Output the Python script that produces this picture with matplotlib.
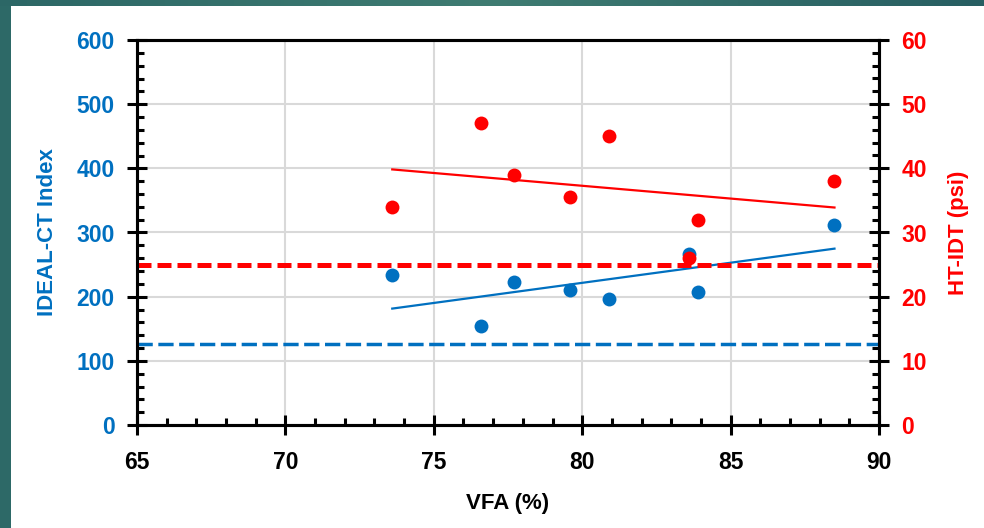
import matplotlib
matplotlib.use("Agg")
import matplotlib.pyplot as plt
import numpy as np
from matplotlib.colors import LinearSegmentedColormap
from matplotlib.patches import Rectangle
from matplotlib.ticker import MultipleLocator


# ----------------------------
# Data
# ----------------------------

vfa = [73.6, 76.6, 77.7, 79.6, 80.9, 83.6, 83.9, 88.5]
ideal_ct = [233, 154, 223, 210, 196, 266, 207, 311]
ht_idt = [34.0, 47.0, 39.0, 35.5, 45.0, 26.0, 32.0, 38.0]

ideal_ct_limit = 127   # blue dashed threshold
ht_idt_limit = 25      # red dashed threshold

BLUE = "#0070C0"
RED = "#FF0000"
TEAL = "#2d6967"

plt.rcParams["font.family"] = ["Liberation Sans", "DejaVu Sans"]
plt.rcParams["font.weight"] = "bold"

fig = plt.figure(figsize=(9.84, 5.28), dpi=100)
fig.patch.set_facecolor(TEAL)

# white slide area, teal border on left and top
fig.patches.append(Rectangle((11 / 984, 0), 1, 1 - 6 / 528, transform=fig.transFigure,
                             facecolor="white", edgecolor="none", zorder=-10))

# slightly lighter teal in the middle of the top strip
strip = fig.add_axes([0, 1 - 6 / 528, 1, 6 / 528], zorder=-5)
teal_cmap = LinearSegmentedColormap.from_list("teal", ["#2c6766", "#3f7c72", "#275e62"])
strip.imshow(np.linspace(0, 1, 256)[None, :], aspect="auto", cmap=teal_cmap)
strip.axis("off")

ax = fig.add_axes([137 / 984, 1 - 425 / 528, 742 / 984, 385 / 528])
ax.set_facecolor("none")
ax2 = ax.twinx()

# ----------------------------
# Blue series (left axis)
# ----------------------------

ax.axhline(ideal_ct_limit, color=BLUE, lw=2.5, ls=(0, (4.4, 1.6)), zorder=2)

b = np.polyfit(vfa, ideal_ct, 1)
xs = np.array([min(vfa), max(vfa)])
ax.plot(xs, np.polyval(b, xs), color=BLUE, lw=1.6, zorder=3)
ax.plot(vfa, ideal_ct, "o", color=BLUE, ms=10, mec="none", zorder=4)

# ----------------------------
# Red series (right axis)
# ----------------------------

ax2.axhline(ht_idt_limit, color=RED, lw=3.6, ls=(0, (2.8, 1.2)), zorder=2)

r = np.polyfit(vfa, ht_idt, 1)
ax2.plot(xs, np.polyval(r, xs), color=RED, lw=1.6, zorder=3)
ax2.plot(vfa, ht_idt, "o", color=RED, ms=10, mec="none", zorder=4)

# ----------------------------
# Axes styling
# ----------------------------

ax.set_xlim(65, 90)
ax.set_ylim(0, 600)
ax2.set_ylim(0, 60)

ax.xaxis.set_major_locator(MultipleLocator(5))
ax.xaxis.set_minor_locator(MultipleLocator(1))
ax.yaxis.set_major_locator(MultipleLocator(100))
ax.yaxis.set_minor_locator(MultipleLocator(20))
ax2.yaxis.set_major_locator(MultipleLocator(10))
ax2.yaxis.set_minor_locator(MultipleLocator(2))

ax.grid(True, which="major", color="#d9d9d9", lw=1.5, zorder=0)
ax.set_axisbelow(True)

for a in (ax, ax2):
    for s in a.spines.values():
        s.set_linewidth(2.2)
        s.set_color("black")
    a.tick_params(which="major", direction="inout", length=14.4, width=2.2, pad=9,
                  labelsize=16.5)
    a.tick_params(which="minor", direction="in", length=5, width=2.2)

ax.tick_params(axis="y", labelcolor=BLUE)
ax.tick_params(axis="x", labelcolor="black", pad=11.5)
ax2.tick_params(axis="y", labelcolor=RED)

for lab in ax.get_xticklabels() + ax.get_yticklabels() + ax2.get_yticklabels():
    lab.set_fontweight("bold")

ax.set_xlabel("VFA (%)", fontsize=16, fontweight="bold", va="center")
ax.xaxis.set_label_coords(0.5, -0.205)
ax.set_ylabel("IDEAL-CT Index", fontsize=16, fontweight="bold", color=BLUE, va="center")
ax.yaxis.set_label_coords(-0.1206, 0.5)
ax2.set_ylabel("HT-IDT (psi)", fontsize=16, fontweight="bold", color=RED, va="center",
               rotation=90)
ax2.yaxis.set_label_coords(1.1065, 0.5)

fig.savefig("out.png", dpi=100, facecolor=fig.get_facecolor())
